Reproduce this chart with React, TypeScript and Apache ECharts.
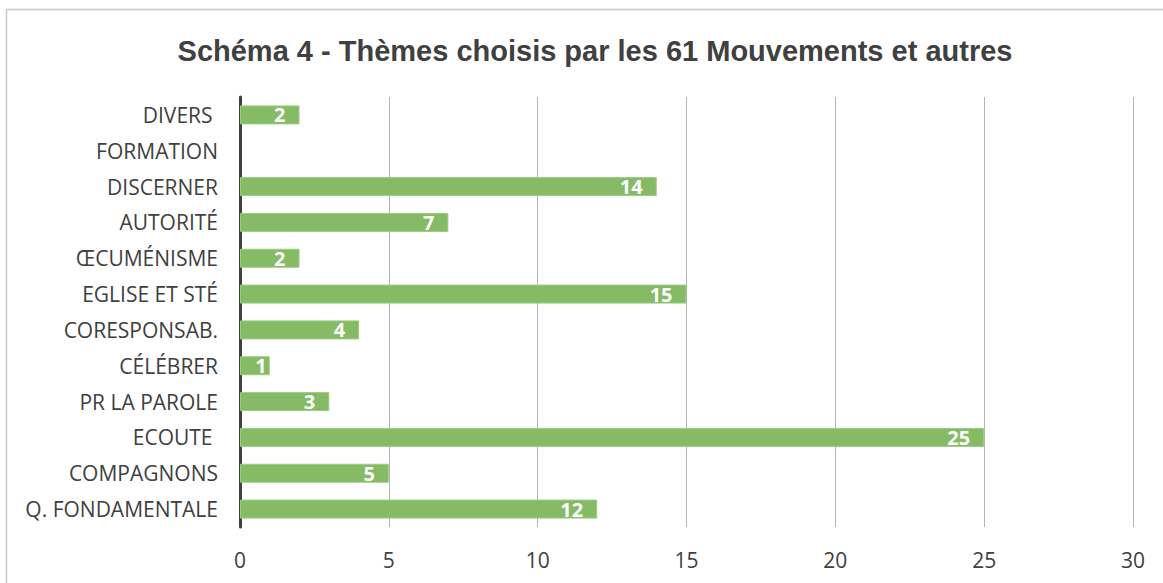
import React, { useEffect, useRef } from "react";
import * as echarts from "echarts";

const categories = [
  "Q. FONDAMENTALE",
  "COMPAGNONS",
  "ECOUTE ",
  "PR LA PAROLE",
  "CÉLÉBRER",
  "CORESPONSAB.",
  "EGLISE ET STÉ",
  "ŒCUMÉNISME",
  "AUTORITÉ",
  "DISCERNER",
  "FORMATION",
  "DIVERS ",
];
const values: (number | null)[] = [12, 5, 25, 3, 1, 4, 15, 2, 7, 14, null, 2];
const xTicks = { min: 0, max: 30, interval: 5 };
const titleText = "Schéma 4 - Thèmes choisis par les 61 Mouvements et autres";

export default function App() {
  const ref = useRef<HTMLDivElement>(null);
  useEffect(() => {
    if (!ref.current) return;
    const chart = echarts.init(ref.current, null, { renderer: "svg" });
    const barData = values.map((v) =>
      v != null && v < 2 ? { value: v, label: { distance: 3 } } : v
    );
    chart.setOption({
      animation: false,
      backgroundColor: "#ffffff",
      title: {
        text: titleText,
        left: 590,
        top: 31,
        textAlign: "center",
        textStyle: {
          fontFamily: "Liberation Sans",
          fontWeight: "bold",
          fontSize: 29,
          color: "#404040",
        },
      },
      graphic: [
        {
          type: "rect",
          shape: { x: 6.5, y: 9.5, width: 1170, height: 600 },
          style: { fill: "none", stroke: "#c8c8c8", lineWidth: 1.5 },
          silent: true,
        },
      ],
      grid: { left: 240, right: 30, top: 97, bottom: 56 },
      xAxis: {
        type: "value",
        min: xTicks.min,
        max: xTicks.max,
        interval: xTicks.interval,
        axisLine: { show: false },
        axisTick: { show: false },
        splitLine: { show: true, lineStyle: { color: "#b4b4b4", width: 1 } },
        axisLabel: {
          margin: 22,
          fontFamily: "Open Sans",
          fontSize: 21,
          color: "#404040",
        },
      },
      yAxis: {
        type: "category",
        data: categories,
        axisLine: { show: true, lineStyle: { color: "#404040", width: 3 } },
        axisTick: { show: false },
        splitLine: { show: false },
        axisLabel: {
          margin: 22,
          fontFamily: "Open Sans",
          fontSize: 21,
          color: "#404040",
        },
      },
      series: [
        {
          type: "bar",
          data: barData,
          barCategoryGap: "47%",
          itemStyle: { color: "#85bb65", borderColor: "#9ccb82", borderWidth: 1 },
          label: {
            show: true,
            position: "insideRight",
            distance: 14,
            color: "#ffffff",
            fontWeight: "bold",
            fontSize: 20,
            fontFamily: "Open Sans",
            formatter: (p: any) => (p.value == null ? "" : String(p.value)),
          },
        },
      ],
    });
    return () => chart.dispose();
  }, []);
  return (
    <div
      ref={ref}
      style={{ position: "fixed", left: 0, top: 0, width: 1163, height: 583 }}
    />
  );
}
